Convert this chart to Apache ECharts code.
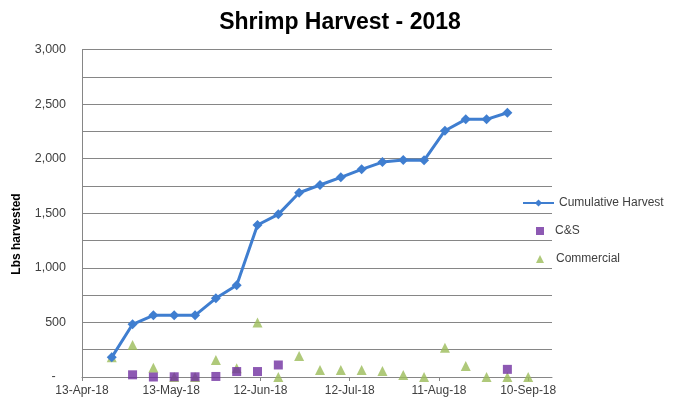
<!DOCTYPE html>
<html>
<head>
<meta charset="utf-8">
<script src="https://cdn.jsdelivr.net/npm/echarts@6/dist/echarts.min.js"></script>
<style>
html,body{margin:0;padding:0;background:#fff;}
#chart{width:682px;height:407px;}
</style>
</head>
<body>
<div id="chart"></div>
<script>
// ---- data ----
const weekDates = ['2018-04-23','2018-04-30','2018-05-07','2018-05-14','2018-05-21','2018-05-28',
  '2018-06-04','2018-06-11','2018-06-18','2018-06-25','2018-07-02','2018-07-09','2018-07-16',
  '2018-07-23','2018-07-30','2018-08-06','2018-08-13','2018-08-20','2018-08-27','2018-09-03','2018-09-10'];
const cumulativeHarvest = [180, 483, 565, 565, 565, 721, 840, 1392, 1490, 1688, 1759, 1829, 1902,
  1969, 1988, 1985, 2256, 2360, 2360, 2421];
const csDates = ['2018-04-30','2018-05-07','2018-05-14','2018-05-21','2018-05-28','2018-06-04',
  '2018-06-11','2018-06-18','2018-09-03'];
const csValues = [20, 0, 2, 2, 5, 50, 50, 110, 70];
const commercialValues = [180, 293, 85, 0, 0, 155, 80, 500, 0, 192, 64, 64, 64, 55, 18, 0, 268, 100, 0, 0, 0];
const xTickDates = ['13-Apr-18','13-May-18','12-Jun-18','12-Jul-18','11-Aug-18','10-Sep-18'];
const axisStart = '2018-04-13';
const axisEndDays = 158;
const yTicks = [0, 500, 1000, 1500, 2000, 2500, 3000];
const seriesNames = ['Cumulative Harvest', 'C&S', 'Commercial'];

// ---- helpers ----
const DAY = 86400000;
const base = Date.parse(axisStart + 'T00:00:00Z');
const dayOf = s => Math.round((Date.parse(s + 'T00:00:00Z') - base) / DAY);

const cumData = cumulativeHarvest.map((v, i) => [dayOf(weekDates[i]), v]);
const csData = csValues.map((v, i) => [dayOf(csDates[i]), v]);
const comData = commercialValues.map((v, i) => [dayOf(weekDates[i]), v]);

const FONT = 'Liberation Sans';
const legendText = {fontFamily: FONT, fontSize: 12, color: '#404040'};
const chart = echarts.init(document.getElementById('chart'), null, {renderer: 'canvas'});
chart.setOption({
  backgroundColor: '#ffffff',
  animation: false,
  textStyle: {fontFamily: FONT},
  title: {
    text: 'Shrimp Harvest - 2018',
    left: 335, top: 6, textAlign: 'center',
    textStyle: {fontFamily: FONT, fontSize: 23, fontWeight: 'bold', color: '#000'}
  },
  grid: {left: 82, right: 130, top: 49.5, bottom: 30, containLabel: false},
  xAxis: {
    type: 'value', min: 0, max: axisEndDays, interval: 30,
    axisLine: {show: true, lineStyle: {color: '#868686', width: 1}},
    axisTick: {show: true, length: 4, lineStyle: {color: '#868686'}},
    splitLine: {show: false},
    axisLabel: {
      fontFamily: FONT, fontSize: 12, color: '#404040', margin: 8,
      showMaxLabel: false,
      formatter: v => { const i = Math.round(v / 30); return (v % 30 === 0 && i < xTickDates.length) ? xTickDates[i] : ''; }
    }
  },
  yAxis: {
    type: 'value', min: 0, max: 3000, interval: 250,
    axisLine: {show: true, lineStyle: {color: '#868686', width: 1}},
    axisTick: {show: false},
    splitLine: {show: true, lineStyle: {color: '#868686', width: 1}},
    axisLabel: {
      fontFamily: FONT, fontSize: 12.5, color: '#404040', margin: 16,
      formatter: v => v === 0 ? '-   ' : (yTicks.indexOf(v) >= 0 ? v.toLocaleString('en-US') : '')
    }
  },
  legend: [
    {left: 517, top: 192, itemWidth: 31, itemHeight: 9, textStyle: legendText, data: [seriesNames[0]]},
    {left: 531, top: 220, itemWidth: 8, itemHeight: 8, textStyle: Object.assign({padding: [0, 0, 0, 6]}, legendText),
      data: [{name: seriesNames[1], icon: 'rect'}]},
    {left: 531, top: 248, itemWidth: 8, itemHeight: 8, textStyle: Object.assign({padding: [0, 0, 0, 7]}, legendText),
      data: [{name: seriesNames[2], icon: 'triangle'}]}
  ],
  graphic: [{
    type: 'text', x: 17, y: 234, rotation: Math.PI / 2,
    style: {text: 'Lbs harvested', font: 'bold 12px ' + FONT, fill: '#000', align: 'center', verticalAlign: 'middle'}
  }],
  series: [
    {
      name: seriesNames[0], type: 'line', data: cumData,
      symbol: 'diamond', symbolSize: 10, showSymbol: true,
      lineStyle: {color: '#3F7ED0', width: 3},
      itemStyle: {color: '#3F7ED0'},
      z: 3
    },
    {
      name: seriesNames[1], type: 'scatter', data: csData,
      symbol: 'rect', symbolSize: 9,
      itemStyle: {color: '#7030A0'}, z: 4
    },
    {
      name: seriesNames[2], type: 'scatter', data: comData,
      symbol: 'triangle', symbolSize: 10,
      itemStyle: {color: '#9BBB59'}, z: 2
    }
  ]
});
</script>
</body>
</html>
